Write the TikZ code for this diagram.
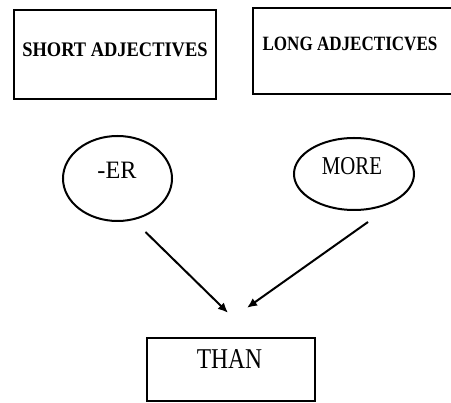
\documentclass[tikz,border=0pt]{standalone}
\usepackage{fontspec}
\setmainfont{Liberation Serif}
\usetikzlibrary{arrows.meta,positioning,shapes.geometric}

\begin{document}
\begin{tikzpicture}[x=1pt,y=-1pt,
    frame/.style={draw,line width=2.4pt,inner sep=0pt},
    oval/.style={draw,ellipse,line width=2pt,inner sep=0pt},
    word/.style={anchor=base,inner sep=0pt},
    link/.style={-{Latex[length=10pt,width=9pt]},line width=2pt}]
  \useasboundingbox (0,0) rectangle (451,403);
  % the two boxes at the top
  \node[frame,minimum width=202pt,minimum height=89pt] (short) at (115,54.5) {};
  \node[frame,minimum width=217pt,minimum height=86pt] (long) at (361.5,51) {};
  \node[word,font=\fontsize{20.7}{22}\selectfont\bfseries] (shorttxt) at (115,57) {\scalebox{0.89}[1]{SHORT ADJECTIVES}};
  \node[word,font=\fontsize{20.3}{22}\selectfont\bfseries] (longtxt) at (350,51) {\scalebox{0.84}[1]{LONG ADJECTICVES}};
  % endings
  \node[oval,minimum width=109pt,minimum height=85pt] (er) at (117.5,178.5) {};
  \node[oval,minimum width=120pt,minimum height=72pt] (more) at (354,174) {};
  \node[word,font=\fontsize{25}{27}\selectfont] (ertxt) at (117,178.5) {\scalebox{0.97}[1]{-ER}};
  \node[word,font=\fontsize{25.7}{27}\selectfont] (moretxt) at (352,175) {\scalebox{0.81}[1]{MORE}};
  % bottom box
  \node[frame,minimum width=168pt,minimum height=63pt] (than) at (231,369.5) {};
  \node[word,font=\fontsize{28.7}{30}\selectfont] (thantxt) at (229.5,369) {\scalebox{0.82}[1]{THAN}};
  \draw[link] ([shift={(28,10)}]er.south) -- ([shift={(-3,-24)}]than.north);
  \draw[link] ([shift={(14,11)}]more.south) -- ([shift={(16,-29)}]than.north);
\end{tikzpicture}
\end{document}
